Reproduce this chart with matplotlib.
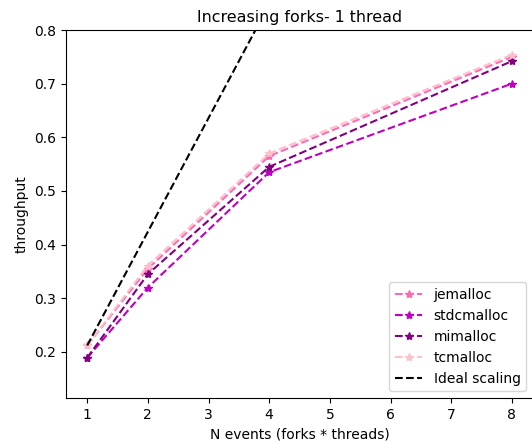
import matplotlib
matplotlib.use("Agg")
import matplotlib.pyplot as plt

x = [1, 2, 4, 8]
jemalloc = [0.212, 0.355, 0.565, 0.750]
stdcmalloc = [0.189, 0.320, 0.535, 0.700]
mimalloc = [0.189, 0.345, 0.545, 0.742]
tcmalloc = [0.212, 0.361, 0.570, 0.754]
ideal_x = [1, 2, 4, 8]
ideal = [jemalloc[0] * v for v in ideal_x]

fig = plt.figure(figsize=(5.32, 4.42), dpi=100)
ax = fig.add_axes([0.124, 0.0995, 0.878, 0.8325])
ax.plot(x, jemalloc, '--*', color='hotpink', label='jemalloc')
ax.plot(x, stdcmalloc, '--*', color='m', label='stdcmalloc')
ax.plot(x, mimalloc, '--*', color='purple', label='mimalloc')
ax.plot(x, tcmalloc, '--*', color='pink', label='tcmalloc')
ax.plot(ideal_x, ideal, '--', color='black', label='Ideal scaling')
ax.set_xlim(0.65, 8.35)
ax.set_ylim(0.114, 0.8)
ax.set_xticks(range(1, 9))
ax.set_title('Increasing forks- 1 thread', fontsize=11.4)
ax.set_xlabel('N events (forks * threads)')
ax.set_ylabel('throughput')
ax.legend(loc='lower right')
fig.savefig('out.png', dpi=100)
